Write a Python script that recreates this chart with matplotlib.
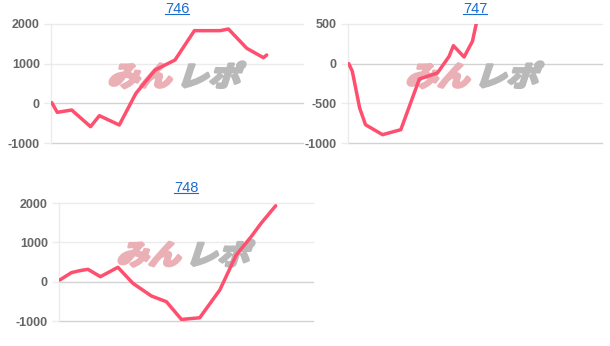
import matplotlib
matplotlib.use('Agg')
import matplotlib.pyplot as plt
from matplotlib.textpath import TextPath
from matplotlib.patches import PathPatch
from matplotlib.font_manager import FontProperties
from matplotlib.transforms import Affine2D
from matplotlib.lines import Line2D

# x positions are percent of the chart width, y values are coins
titles = ['746', '747', '748']

x_746 = [0.3, 2.5, 8.2, 15.7, 19.2, 27.1, 33.7, 41.3, 49.2, 56.9, 67.1, 70.4, 77.7, 84.3, 85.6]
y_746 = [17, -227, -168, -588, -311, -546, 252, 840, 1092, 1832, 1832, 1874, 1387, 1151, 1218]

x_747 = [0.3, 1.7, 4.6, 6.9, 13.6, 20.8, 28.1, 35.2, 39.8, 41.5, 45.7, 49.0, 50.5, 51.6]
y_747 = [0, -97, -560, -770, -895, -832, -193, -118, 92, 227, 84, 282, 504, 700]

x_748 = [0.3, 4.9, 8.2, 11.4, 16.3, 23.2, 29.1, 36.4, 42.3, 48.2, 55.4, 63.3, 69.8, 75.7, 79.6, 85.3]
y_748 = [42, 230, 280, 314, 127, 365, -42, -365, -510, -960, -918, -212, 680, 1147, 1487, 1929]

ticks_746 = [-1000, 0, 1000, 2000]
ticks_747 = [-1000, -500, 0, 500]
ticks_748 = [-1000, 0, 1000, 2000]

line_color = '#ff4f6e'
grid_color = '#ebebeb'
zero_color = '#d2d2d2'
label_color = '#666666'
title_color = '#1a6ccf'

W, H = 610, 346
fig = plt.figure(figsize=(W / 100, H / 100), dpi=100)
plt.rcParams['font.family'] = ['Liberation Sans', 'DejaVu Sans']


def px_axes(left, top, right, bottom):
    return fig.add_axes([left / W, 1 - bottom / H, (right - left) / W, (bottom - top) / H])


def watermark(ax):
    fp = FontProperties(family='Noto Sans CJK JP', weight='bold')
    cx, cy = ax.transAxes.transform((0.5, 0.48))
    scale = fig.dpi / 72
    for txt, col, dx in [('みん', '#eab0b5', -70), ('レポ', '#b9b9b9', -1)]:
        tp = TextPath((0, 0), txt, size=20, prop=fp)
        tr = Affine2D().skew_deg(16, 0).scale(scale * 1.15, scale).translate(cx + dx, cy)
        patch = PathPatch(tp, transform=tr, facecolor=col, edgecolor=col, lw=2.2,
                          joinstyle='round', zorder=1, clip_on=False)
        ax.add_artist(patch)


def draw(ax, title, xs, ys, ticks):
    ax.set_xlim(0, 100)
    ax.set_ylim(ticks[0], ticks[-1])
    ax.set_yticks(ticks)
    ax.set_yticklabels([str(t) for t in ticks])
    ax.set_xticks([])
    for s in ['top', 'right', 'bottom']:
        ax.spines[s].set_visible(False)
    ax.spines['left'].set_color(grid_color)
    ax.spines['left'].set_linewidth(1)
    for t in ticks:
        c = zero_color if t in (0, ticks[0]) else grid_color
        ax.axhline(t, color=c, lw=1, zorder=0, clip_on=False)
    ax.tick_params(axis='y', length=5, width=1, color=grid_color, labelcolor=label_color,
                   labelsize=9, pad=3)
    for lbl in ax.get_yticklabels():
        lbl.set_fontweight('bold')
    watermark(ax)
    ax.plot(xs, ys, color=line_color, lw=2.5, zorder=3, solid_joinstyle='round',
            solid_capstyle='round')
    ax.set_facecolor('none')
    t = ax.text(0.5, 1.07, title, transform=ax.transAxes, ha='center', va='bottom',
                color=title_color, fontsize=10.5)
    return t


ax1 = px_axes(51, 24, 303, 143)
ax2 = px_axes(348, 24, 602, 143)
ax3 = px_axes(59, 203, 313, 321)

texts = []
texts.append((ax1, draw(ax1, titles[0], x_746, y_746, ticks_746)))
texts.append((ax2, draw(ax2, titles[1], x_747, y_747, ticks_747)))
texts.append((ax3, draw(ax3, titles[2], x_748, y_748, ticks_748)))

# underline the titles like links
fig.canvas.draw()
r = fig.canvas.get_renderer()
for ax, t in texts:
    bb = t.get_window_extent(r)
    y = bb.y0 + 1.5
    fig.add_artist(Line2D([bb.x0 / W, bb.x1 / W], [y / H, y / H], color=title_color, lw=0.8))

fig.savefig('out.png', dpi=100)
